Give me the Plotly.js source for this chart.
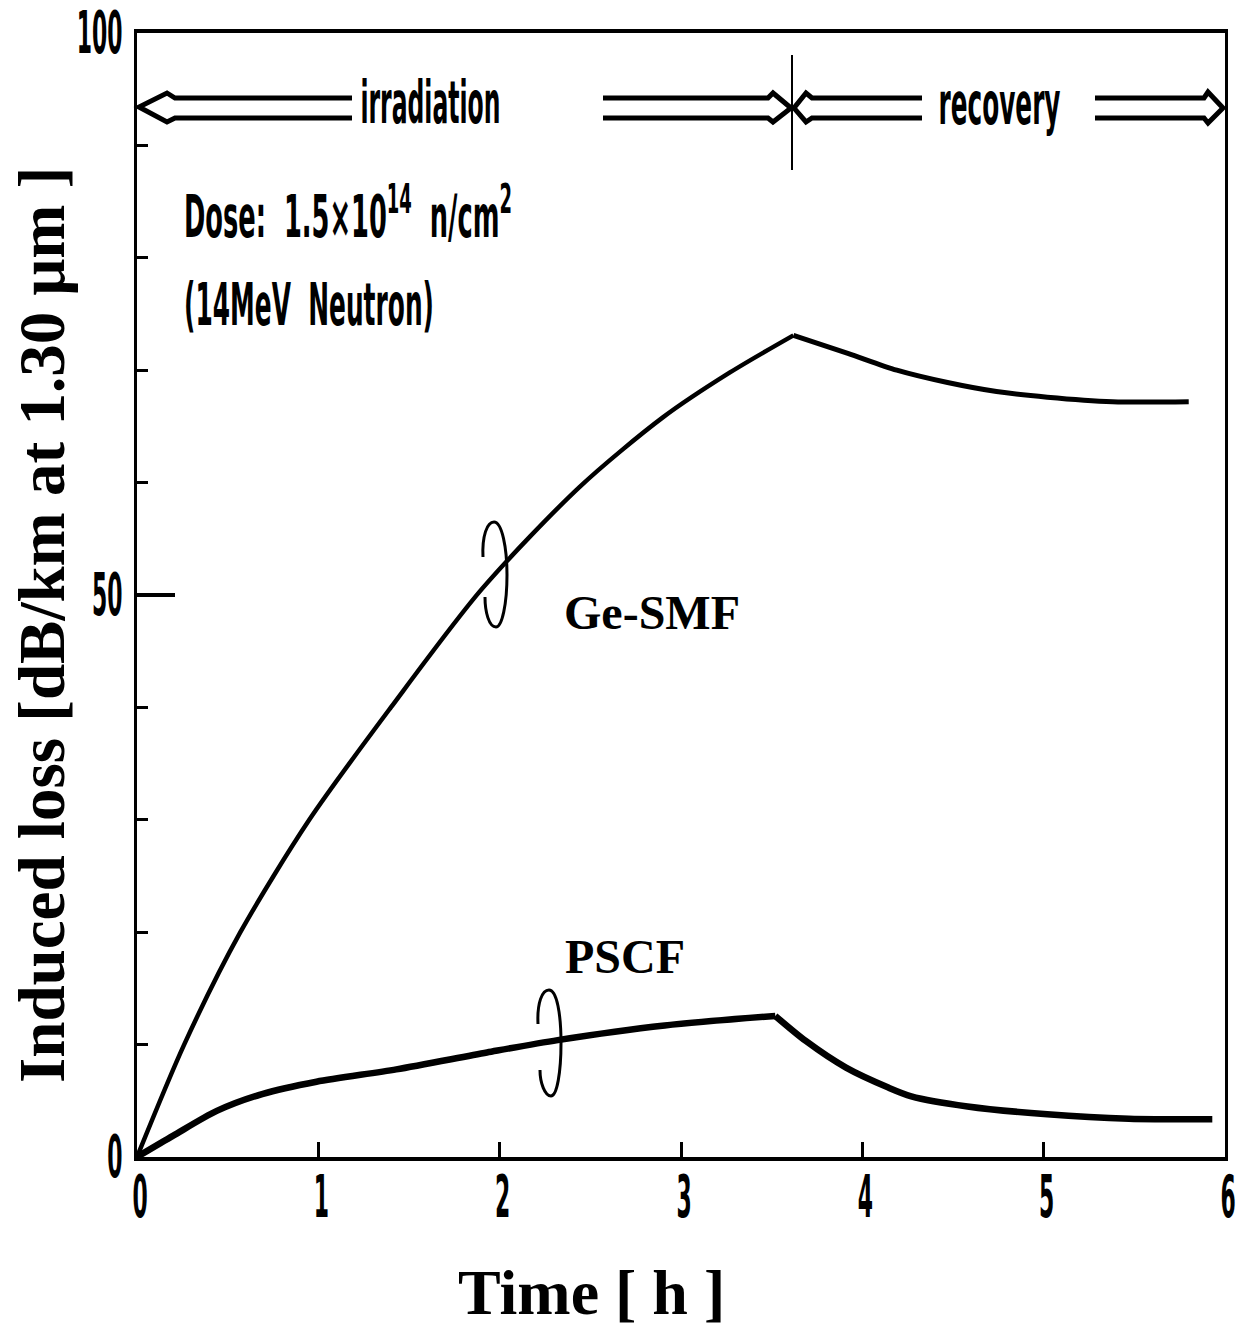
<!DOCTYPE html>
<html>
<head>
<meta charset="utf-8">
<script src="https://cdn.plot.ly/plotly-3.0.1.min.js"></script>
<style>
html,body{margin:0;padding:0;background:#fff;}
#chart{width:1239px;height:1327px;}
</style>
</head>
<body>
<div id="chart"></div>
<script>
// ---- data ----
const geTimeIrr = [0, 0.26, 0.57, 0.95, 1.4, 1.9, 2.44, 2.9, 3.27, 3.62];
const geLossIrr = [0, 10.0, 20.0, 30.0, 40.0, 50.5, 59.6, 65.8, 69.8, 73.1];
const geTimeRec = [3.62, 3.92, 4.19, 4.47, 4.74, 5.02, 5.38, 5.8];
const geLossRec = [73.1, 71.5, 70.0, 68.9, 68.1, 67.6, 67.2, 67.2];

const psTimeIrr = [0, 0.2, 0.44, 0.69, 0.99, 1.43, 1.93, 2.32, 2.91, 3.52];
const psLossIrr = [0, 1.9, 4.1, 5.6, 6.7, 7.8, 9.3, 10.4, 11.7, 12.55];
const psTimeRec = [3.52, 3.69, 3.91, 4.14, 4.27, 4.58, 5.02, 5.47, 5.93];
const psLossRec = [12.55, 10.3, 7.95, 6.2, 5.4, 4.5, 3.8, 3.4, 3.35];

const xTickVals = [0, 1, 2, 3, 4, 5, 6];
const xTickText = ['0', '1', '2', '3', '4', '5', '6'];
const yTickVals = [0, 50, 100];
const yTickText = ['0', '50', '100'];

// ---- layout helpers (pixel -> paper) ----
const L = 137, R = 1225, T = 33, B = 1157;
const X = p => (p - L) / (R - L);
const Y = p => (B - p) / (B - T);
const toPaper = s => s.replace(/(-?\d+\.?\d*)\s+(-?\d+\.?\d*)/g, (m, a, b) => X(+a).toFixed(5) + ' ' + Y(+b).toFixed(5));

const narrow = '"DejaVu Sans Condensed", "DejaVu Sans", "Liberation Sans", Arial, sans-serif';
const serif = '"Liberation Serif", "Times New Roman", serif';

function line(x, y, w) {
  return {x: x, y: y, type: 'scatter', mode: 'lines',
    line: {color: '#000', width: w, shape: 'spline', smoothing: 0.8},
    hoverinfo: 'skip', showlegend: false};
}
const data = [
  line(geTimeIrr, geLossIrr, 4.5),
  line(geTimeRec, geLossRec, 5),
  line(psTimeIrr, psLossIrr, 6.5),
  line(psTimeRec, psLossRec, 6.5)
];

const pathStyle = {color: '#000', width: 5};
const shapePaths = [
  'M 352 98 L 175 98 L 167 93 L 139 107 L 167 122 L 175 118 L 352 118',
  'M 603 98 L 768 98 L 773 93 L 791 108 L 773 122 L 768 118 L 603 118',
  'M 922 98 L 812 98 L 806 93 L 794 108 L 806 122 L 812 118 L 922 118',
  'M 1095 98 L 1204 98 L 1208 92 L 1223 108 L 1208 123 L 1204 118 L 1095 118'
];
const shapes = shapePaths.map(p => ({type: 'path', xref: 'paper', yref: 'paper',
  path: toPaper(p), line: pathStyle, fillcolor: 'rgba(0,0,0,0)'}));
shapes.push({type: 'line', xref: 'paper', yref: 'paper', x0: X(792), x1: X(792), y0: Y(55), y1: Y(170), line: {color: '#000', width: 2}});
shapes.push({type: 'path', xref: 'paper', yref: 'paper', line: {color: '#000', width: 3}, fillcolor: 'rgba(0,0,0,0)',
  path: toPaper('M 483 557 C 482 536 487 522 494 522 C 502 522 507 548 507 575 C 507 604 502 627 496 627 C 489 627 485 612 485 597')});
shapes.push({type: 'path', xref: 'paper', yref: 'paper', line: {color: '#000', width: 3}, fillcolor: 'rgba(0,0,0,0)',
  path: toPaper('M 538 1024 C 537 1003 542 990 549 990 C 557 990 561 1015 561 1043 C 561 1072 557 1096 551 1096 C 545 1096 540 1083 540 1070')});

function ann(text, px, py, size, fam, extra) {
  return Object.assign({text: text, xref: 'paper', yref: 'paper', x: X(px), y: Y(py),
    showarrow: false, xanchor: 'center', yanchor: 'middle',
    font: {family: fam, size: size, color: '#000'}}, extra || {});
}
const annotations = [
  ann('<b>irradiation</b>', 430, 103, 58, narrow),
  ann('<b>recovery</b>', 999, 104, 58, narrow),
  ann('<b>Dose:  1.5×10<sup>14</sup>  n/cm<sup>2</sup></b>', 182, 213, 58, narrow, {xanchor: 'left'}),
  ann('<b>(14MeV  Neutron)</b>', 182, 305, 58, narrow, {xanchor: 'left'}),
  ann('<b>Ge-SMF</b>', 652, 612, 48, serif),
  ann('<b>PSCF</b>', 625, 956, 48, serif),
  ann('<b>Time [ h ]</b>', 591, 1292, 64, serif),
  ann('<b>Induced loss [dB/km at 1.30 μm ]</b>', 42, 625, 65, serif, {textangle: -90})
];
// target drawn widths (px) for the condensed texts: [annotation index, width, anchor fraction]
const squeezeAnn = [[0, 140, 0.5], [1, 122, 0.5], [2, 328, 0], [3, 250, 0]];
const tickSqueeze = 0.42;

const layout = {
  width: 1239, height: 1327,
  margin: {l: L, r: 1239 - R, t: T, b: 1327 - B, pad: 0},
  paper_bgcolor: '#fff', plot_bgcolor: '#fff',
  showlegend: false,
  xaxis: {
    range: [0, 6], tickvals: xTickVals, ticktext: xTickText,
    ticks: 'inside', ticklen: 15, tickwidth: 3, tickcolor: '#000',
    showline: true, linewidth: 4, linecolor: '#000', mirror: true,
    showgrid: false, zeroline: false,
    ticklabelstandoff: 0, ticklabeloverflow: 'allow',
    tickfont: {family: narrow, size: 58, color: '#000', weight: 'bold'}
  },
  yaxis: {
    range: [0, 100], tickvals: yTickVals, ticktext: yTickText,
    ticks: 'inside', ticklen: 38, tickwidth: 4, tickcolor: '#000',
    minor: {dtick: 10, ticks: 'inside', ticklen: 11, tickwidth: 3, tickcolor: '#000', showgrid: false},
    showline: true, linewidth: 3, linecolor: '#000', mirror: true,
    showgrid: false, zeroline: false,
    ticklabelstandoff: 0, ticklabeloverflow: 'allow',
    tickfont: {family: narrow, size: 58, color: '#000', weight: 'bold'}
  },
  shapes: shapes,
  annotations: annotations
};

function squeeze(el, s, frac, dx, dy) {
  const bb = el.getBBox();
  if (!bb.width) return;
  const ax = bb.x + bb.width * frac;
  const prev = el.getAttribute('transform') || '';
  el.setAttribute('transform', prev + ' translate(' + (dx || 0) + ',' + (dy || 0) + ') translate(' + ax + ',0) scale(' + s + ',1) translate(' + (-ax) + ',0)');
}

Plotly.newPlot('chart', data, layout, {staticPlot: true, displayModeBar: false}).then(gd => {
  squeezeAnn.forEach(([i, w, frac]) => {
    const t = gd.querySelector('.annotation[data-index="' + i + '"] text.annotation-text');
    if (t) { const bb = t.getBBox(); if (bb.width) squeeze(t, w / bb.width, frac); }
  });
  gd.querySelectorAll('.xtick text').forEach(t => squeeze(t, tickSqueeze, 0.5, 3, -14));
  gd.querySelectorAll('.ytick text').forEach(t => squeeze(t, tickSqueeze, 1, 0, 0));
});
</script>
</body>
</html>
